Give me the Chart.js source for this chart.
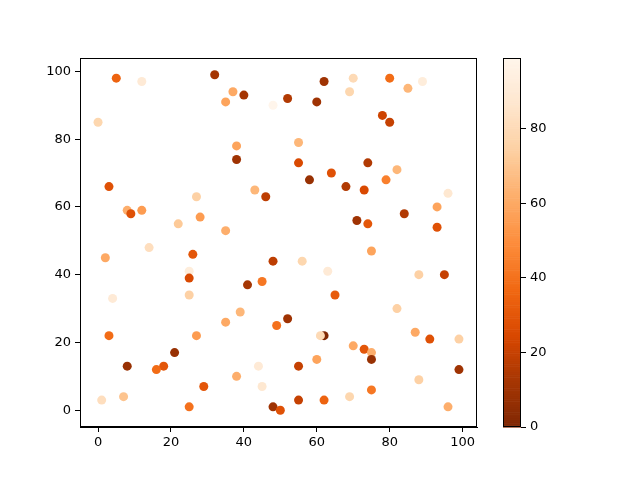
<!DOCTYPE html>
<html>
<head>
<meta charset="utf-8">
<script src="https://cdn.jsdelivr.net/npm/chart.js@4"></script>
<style>
  body { margin: 0; background: #fff; }
  #wrap { position: relative; width: 640px; height: 480px; }
  canvas { position: absolute; left: 0; top: 0; }
</style>
</head>
<body>
<div id="wrap">
  <canvas id="plot" width="640" height="480"></canvas>
  <canvas id="cbar" width="640" height="480"></canvas>
</div>
<script>
// scatter values
var xValues = [5, 12, 32, 37, 40, 35, 48, 0, 38, 38, 3, 43, 46, 27, 8, 9, 12, 28, 22, 35, 14,
  62, 70, 80, 89, 85, 69, 52, 60, 78, 80, 55, 55, 74, 82, 64, 58, 79, 68, 73, 96, 93, 84, 71, 74, 93,
  2, 26, 48, 25, 25, 25, 45, 41, 4, 39, 35, 49, 3, 27, 21, 8, 18, 16, 44, 38, 29, 45, 1, 7, 25, 48, 50,
  75, 56, 63, 88, 95, 65, 82, 52, 87, 91, 99, 62, 61, 70, 73, 75, 75, 60, 55, 99, 88, 75, 69, 55, 62, 96];
var yValues = [98, 97, 99, 94, 93, 91, 90, 85, 78, 74, 66, 65, 63, 63, 59, 58, 59, 57, 55, 53, 48,
  97, 98, 98, 97, 95, 94, 92, 91, 87, 85, 79, 73, 73, 71, 70, 68, 68, 66, 65, 64, 60, 58, 56, 55, 54,
  45, 46, 44, 41, 39, 34, 38, 37, 33, 29, 26, 25, 22, 22, 17, 13, 13, 12, 13, 10, 7, 7, 3, 4, 1, 1, 0,
  47, 44, 41, 40, 40, 34, 30, 27, 23, 21, 21, 22, 22, 19, 18, 17, 15, 15, 13, 12, 9, 6, 4, 3, 3, 1];
var colorValues = [35, 90, 12, 60, 12, 58, 99, 78, 58, 10, 28, 65, 18, 75, 62, 28, 55, 55, 72, 62, 82,
  10, 80, 38, 92, 65, 78, 15, 10, 22, 20, 65, 25, 15, 65, 28, 8, 45, 15, 25, 88, 58, 15, 10, 30, 28,
  60, 30, 18, 92, 25, 75, 42, 12, 90, 65, 60, 40, 38, 55, 8, 8, 30, 38, 90, 62, 30, 88, 82, 70, 40, 10, 28,
  58, 78, 90, 75, 20, 32, 75, 10, 60, 28, 75, 0, 80, 60, 30, 62, 8, 58, 20, 10, 75, 42, 78, 20, 35, 62];
var xTicks = [0, 20, 40, 60, 80, 100];
var yTicks = [0, 20, 40, 60, 80, 100];
var cbarTicks = [0, 20, 40, 60, 80];
var cMin = 0, cMax = 99;

// matplotlib "Oranges" stops, used reversed
var oranges = ['#fff5eb', '#fee6ce', '#fdd0a2', '#fdae6b', '#fd8d3c', '#f16913', '#d94801', '#a63603', '#7f2704'];

function hexToRgb(h) {
  return [parseInt(h.substr(1, 2), 16), parseInt(h.substr(3, 2), 16), parseInt(h.substr(5, 2), 16)];
}
function orangesR(v) {
  var t = 1 - (v - cMin) / (cMax - cMin);
  t = Math.max(0, Math.min(1, t));
  var pos = t * (oranges.length - 1);
  var i = Math.min(Math.floor(pos), oranges.length - 2);
  var f = pos - i;
  var a = hexToRgb(oranges[i]), b = hexToRgb(oranges[i + 1]);
  var c = a.map(function (av, k) { return Math.round(av + (b[k] - av) * f); });
  return 'rgb(' + c[0] + ',' + c[1] + ',' + c[2] + ')';
}

var points = xValues.map(function (x, i) { return { x: x, y: yValues[i] }; });
var pointColors = colorValues.map(orangesR);

var tickFont = { family: 'DejaVu Sans', size: 13 };

// draws the four spines like matplotlib
var framePlugin = {
  id: 'frame',
  afterDraw: function (chart) {
    var a = chart.chartArea, ctx = chart.ctx;
    ctx.save();
    ctx.strokeStyle = '#000';
    ctx.lineWidth = 1;
    ctx.strokeRect(a.left + 0.5, a.top + 0.5, a.right - a.left - 1, a.bottom - a.top - 1);
    ctx.restore();
  }
};

new Chart(document.getElementById('plot'), {
  type: 'scatter',
  data: {
    datasets: [{
      data: points,
      backgroundColor: pointColors,
      borderWidth: 0,
      pointRadius: 4.5,
      pointHoverRadius: 4.5
    }]
  },
  options: {
    responsive: false,
    animation: false,
    layout: { padding: { left: 0, right: 163, top: 58, bottom: 0 } },
    plugins: { legend: { display: false }, tooltip: { enabled: false } },
    scales: {
      x: {
        type: 'linear', min: -4.95, max: 103.95,
        afterBuildTicks: function (s) { s.ticks = xTicks.map(function (v) { return { value: v }; }); },
        afterFit: function (s) { s.height = 53; },
        grid: { drawOnChartArea: false, tickLength: 5, color: '#000' },
        border: { color: '#000' },
        ticks: { color: '#000', font: tickFont, padding: 3, maxRotation: 0 }
      },
      y: {
        type: 'linear', min: -4.95, max: 103.95,
        afterBuildTicks: function (s) { s.ticks = yTicks.map(function (v) { return { value: v }; }); },
        afterFit: function (s) { s.width = 80; },
        grid: { drawOnChartArea: false, tickLength: 5, color: '#000' },
        border: { color: '#000' },
        ticks: { color: '#000', font: tickFont, padding: 4 }
      }
    }
  },
  plugins: [framePlugin]
});

// colour bar: a gradient filling its own chart area, with a right-hand axis
var gradientPlugin = {
  id: 'gradient',
  beforeDatasetsDraw: function (chart) {
    var a = chart.chartArea, ctx = chart.ctx;
    var ys = chart.scales.y;
    var steps = 200;
    ctx.save();
    for (var k = 0; k < steps; k++) {
      var v0 = cMin + (cMax - cMin) * k / steps;
      var v1 = cMin + (cMax - cMin) * (k + 1) / steps;
      var top = ys.getPixelForValue(v1), bot = ys.getPixelForValue(v0);
      ctx.fillStyle = orangesR((v0 + v1) / 2);
      ctx.fillRect(a.left, top, a.right - a.left, bot - top + 0.6);
    }
    ctx.restore();
  }
};

new Chart(document.getElementById('cbar'), {
  type: 'scatter',
  data: { datasets: [{ data: [] }] },
  options: {
    responsive: false,
    animation: false,
    layout: { padding: { left: 503, right: 79, top: 58, bottom: 53 } },
    plugins: { legend: { display: false }, tooltip: { enabled: false } },
    scales: {
      x: { display: false, min: 0, max: 1 },
      y: {
        position: 'right', type: 'linear', min: cMin, max: cMax,
        afterBuildTicks: function (s) { s.ticks = cbarTicks.map(function (v) { return { value: v }; }); },
        afterFit: function (s) { s.width = 40; },
        grid: { drawOnChartArea: false, tickLength: 5, color: '#000' },
        border: { display: false },
        ticks: { color: '#000', font: tickFont, padding: 4 }
      }
    }
  },
  plugins: [gradientPlugin, framePlugin]
});
</script>
</body>
</html>
